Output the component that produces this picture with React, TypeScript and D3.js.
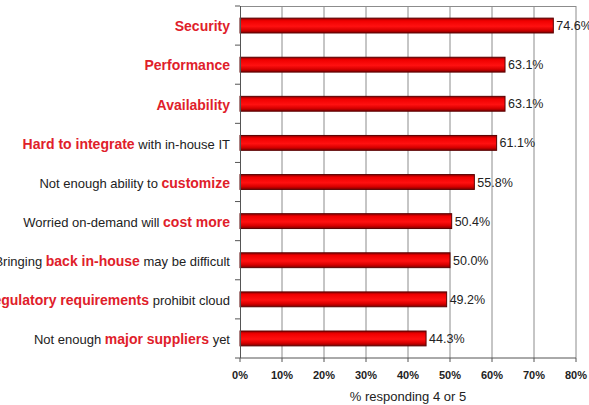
import * as d3 from 'd3'

// Each label is split into segments; highlighted segments are drawn in red
const labels: [string, boolean][][] = [
  [['Security', true]],
  [['Performance', true]],
  [['Availability', true]],
  [['Hard to integrate', true], [' with in-house IT', false]],
  [['Not enough ability to ', false], ['customize', true]],
  [['Worried on-demand will ', false], ['cost more', true]],
  [['Bringing ', false], ['back in-house', true], [' may be difficult', false]],
  [['Regulatory requirements', true], [' prohibit cloud', false]],
  [['Not enough ', false], ['major suppliers', true], [' yet', false]],
]
const values = [74.6, 63.1, 63.1, 61.1, 55.8, 50.4, 50.0, 49.2, 44.3]
const xTicks = [0, 10, 20, 30, 40, 50, 60, 70, 80]
const xTitle = '% responding 4 or 5'

const W = 589
const H = 405
const margin = { top: 6, right: 13, bottom: 47, left: 240 }

const RED = '#e0202a'
const FONT = '"Liberation Sans", Arial, sans-serif'

export default function App() {
  const innerW = W - margin.left - margin.right
  const innerH = H - margin.top - margin.bottom

  const x = d3.scaleLinear().domain([0, 80]).range([0, innerW])
  const y = d3
    .scaleBand<number>()
    .domain(d3.range(values.length))
    .range([0, innerH])
    .paddingInner(0.62)
    .paddingOuter(0.31)

  const step = y.step()
  const boundaries = d3.range(values.length + 1).map((i) => i * step)

  return (
    <div style={{ position: 'absolute', left: 0, top: 0 }}>
      <svg width={W} height={H} style={{ display: 'block', fontFamily: FONT }}>
        <defs>
          <linearGradient id="barFill" x1="0" y1="0" x2="0" y2="1">
            <stop offset="0%" stopColor="#8a0000" />
            <stop offset="18%" stopColor="#f00000" />
            <stop offset="55%" stopColor="#ff1010" />
            <stop offset="80%" stopColor="#d80000" />
            <stop offset="100%" stopColor="#800000" />
          </linearGradient>
        </defs>
        <rect width={W} height={H} fill="#fff" />
        <g transform={`translate(${margin.left},${margin.top})`}>
          {/* vertical gridlines */}
          {xTicks.slice(1).map((t) => (
            <line key={t} x1={x(t)} x2={x(t)} y1={0} y2={innerH} stroke="#8c8c8c" strokeWidth={1} />
          ))}
          <line x1={0} x2={innerW} y1={0.5} y2={0.5} stroke="#8c8c8c" />

          {/* bars */}
          {values.map((v, i) => (
            <rect
              key={i}
              x={0}
              y={y(i)}
              width={x(v)}
              height={y.bandwidth()}
              fill="url(#barFill)"
              stroke="#5a0000"
              strokeWidth={1}
            />
          ))}

          {/* value labels */}
          {values.map((v, i) => (
            <text
              key={i}
              x={x(v) + 3}
              y={(y(i) ?? 0) + y.bandwidth() / 2}
              dy="0.36em"
              fontSize={12.5}
              fill="#222"
            >
              {v.toFixed(1)}%
            </text>
          ))}

          {/* left axis with category ticks */}
          <line x1={0.5} x2={0.5} y1={0} y2={innerH} stroke="#555" />
          {boundaries.map((b, i) => (
            <line key={i} x1={-5} x2={0} y1={b} y2={b} stroke="#555" />
          ))}

          {/* bottom axis */}
          <line x1={0} x2={innerW} y1={innerH} y2={innerH} stroke="#555" />
          {xTicks.map((t) => (
            <g key={t} transform={`translate(${x(t)},${innerH})`}>
              <line y1={0} y2={4} stroke="#555" />
              <text y={21} textAnchor="middle" fontSize={11} fontWeight="bold" fill="#222">
                {t}%
              </text>
            </g>
          ))}
          <text x={innerW / 2} y={innerH + 43} textAnchor="middle" fontSize={13} fill="#222">
            {xTitle}
          </text>

          {/* category labels */}
          {labels.map((parts, i) => (
            <text
              key={i}
              x={-10}
              y={(y(i) ?? 0) + y.bandwidth() / 2}
              dy="0.36em"
              textAnchor="end"
            >
              {parts.map(([s, hi], j) => (
                <tspan
                  key={j}
                  fill={hi ? RED : '#222'}
                  fontSize={hi ? 14 : 13}
                  fontWeight={hi ? 'bold' : 'normal'}
                  style={{ whiteSpace: 'pre' }}
                >
                  {s}
                </tspan>
              ))}
            </text>
          ))}
        </g>
      </svg>
    </div>
  )
}
